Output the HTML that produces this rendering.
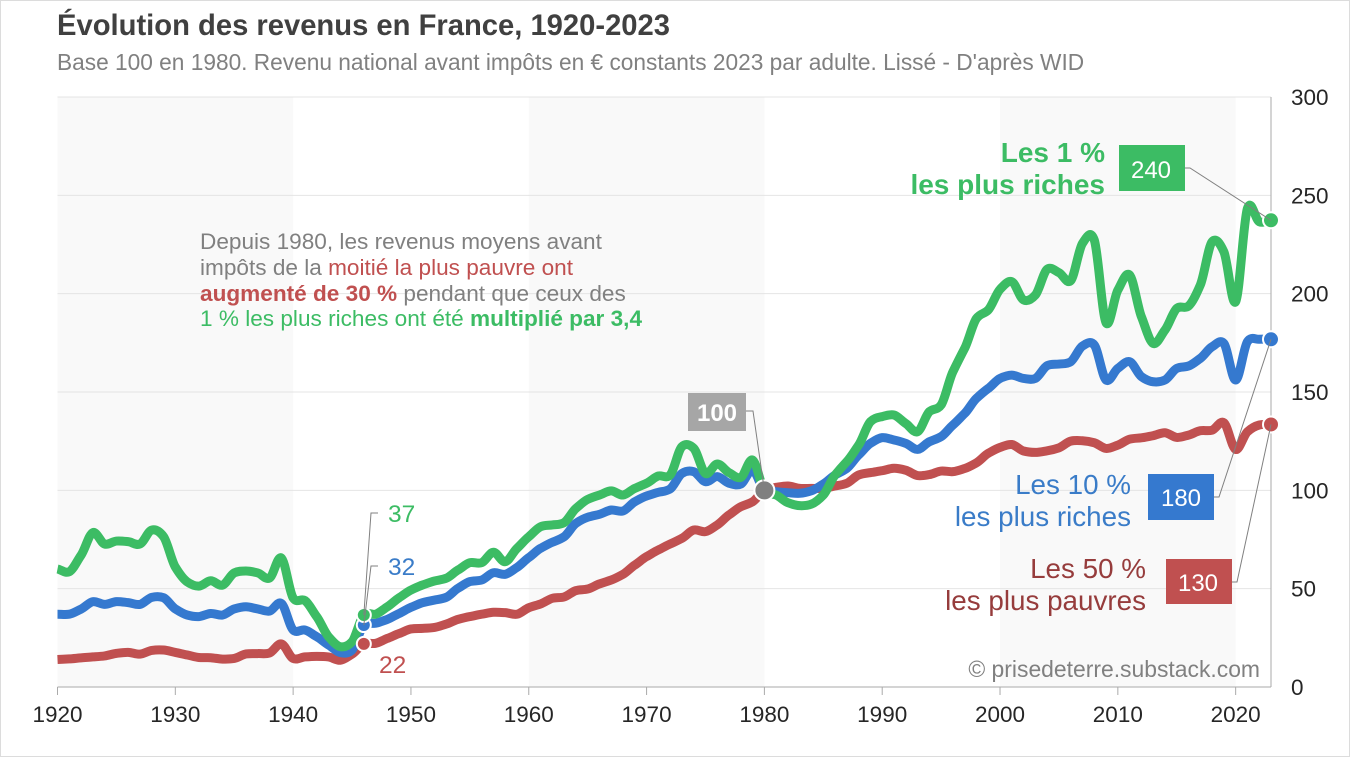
<!DOCTYPE html>
<html lang="fr">
<head>
<meta charset="utf-8">
<title>Évolution des revenus en France, 1920-2023</title>
<style>
html,body{margin:0;padding:0;background:#fff;}
svg{display:block;font-family:"Liberation Sans",Arial,sans-serif;}
</style>
</head>
<body>
<svg id="chart" xmlns="http://www.w3.org/2000/svg" width="1350" height="757" viewBox="0 0 1350 757">
  <rect x="0.5" y="0.5" width="1349" height="756" fill="#fff" stroke="#dcdcdc"/>
  <g id="bands"></g>
  <g id="grid"></g>
  <g id="axes"></g>
  <g id="series"></g>
  <g id="leaders"></g>

  <text x="57" y="35" font-size="29.2" font-weight="bold" fill="#404040" textLength="613" lengthAdjust="spacingAndGlyphs">Évolution des revenus en France, 1920-2023</text>
  <text x="57" y="70" font-size="22.7" fill="#808080">Base 100 en 1980. Revenu national avant impôts en € constants 2023 par adulte. Lissé - D'après WID</text>

  <g font-size="22.6" fill="#808080">
    <text x="200" y="249">Depuis 1980, les revenus moyens avant</text>
    <text x="200" y="275">impôts de la <tspan fill="#c05050">moitié la plus pauvre ont</tspan></text>
    <text x="200" y="301"><tspan fill="#c05050" font-weight="bold">augmenté de 30 %</tspan> pendant que ceux des</text>
    <text x="200" y="326" fill="#3cbc64">1 % les plus riches ont été <tspan font-weight="bold">multiplié par 3,4</tspan></text>
  </g>

  <g font-size="28" font-weight="bold" fill="#3cbc64" text-anchor="end">
    <text x="1105" y="162">Les 1 %</text>
    <text x="1105" y="194">les plus riches</text>
  </g>
  <g font-size="27.8" fill="#3a7cc8" text-anchor="end">
    <text x="1131" y="494">Les 10 %</text>
    <text x="1131" y="526">les plus riches</text>
  </g>
  <g font-size="27.8" fill="#963c3c" text-anchor="end">
    <text x="1146" y="578">Les 50 %</text>
    <text x="1146" y="610">les plus pauvres</text>
  </g>

  <g>
    <rect x="1119" y="145" width="66" height="46" fill="#3cbc64"/>
    <text x="1151" y="178" font-size="24" fill="#fff" text-anchor="middle">240</text>
  </g>
  <g>
    <rect x="1148" y="474" width="66" height="46" fill="#3579cf"/>
    <text x="1181" y="506" font-size="24" fill="#fff" text-anchor="middle">180</text>
  </g>
  <g>
    <rect x="1166" y="559" width="66" height="45" fill="#c05050"/>
    <text x="1198" y="591" font-size="24" fill="#fff" text-anchor="middle">130</text>
  </g>
  <g>
    <rect x="688" y="393" width="58" height="38" fill="#a6a6a6"/>
    <text x="717" y="421" font-size="24" font-weight="bold" fill="#fff" text-anchor="middle">100</text>
  </g>

  <text x="388" y="522" font-size="24.5" fill="#3cbc64">37</text>
  <text x="388" y="575" font-size="24.5" fill="#3a7cc8">32</text>
  <text x="379" y="673" font-size="24.5" fill="#c05050">22</text>

  <text x="1260" y="677" font-size="22.9" fill="#808080" text-anchor="end">© prisedeterre.substack.com</text>
</svg>

<script>
const years = [
  1920,1921,1922,1923,1924,1925,1926,1927,1928,1929,
  1930,1931,1932,1933,1934,1935,1936,1937,1938,1939,
  1940,1941,1942,1943,1944,1945,1946,1947,1948,1949,
  1950,1951,1952,1953,1954,1955,1956,1957,1958,1959,
  1960,1961,1962,1963,1964,1965,1966,1967,1968,1969,
  1970,1971,1972,1973,1974,1975,1976,1977,1978,1979,
  1980,1981,1982,1983,1984,1985,1986,1987,1988,1989,
  1990,1991,1992,1993,1994,1995,1996,1997,1998,1999,
  2000,2001,2002,2003,2004,2005,2006,2007,2008,2009,
  2010,2011,2012,2013,2014,2015,2016,2017,2018,2019,
  2020,2021,2022,2023
];
const top1 = [
  60,58.6,67,78.5,72.7,74.2,73.9,72.7,79.8,76.5,
  61,53.5,51.3,54,51.8,58,59,58,55.4,65.6,
  45.3,44,35.8,25.6,20.5,23,36.6,37,40.8,45.4,
  49.3,51.9,53.9,55.3,59.5,63.2,63.2,68.5,63.7,70.5,
  76.4,81.5,82.4,83.6,90.8,95.4,97.6,99.7,97.6,101,
  103.6,107.3,107.8,122.2,121.4,108.6,113.4,109,106.6,115.4,
  100,97.6,93.7,92.2,93,97.6,107.8,114.6,123,134.9,
  137.5,138.3,134,129.8,140,143.4,160.3,172.2,187.4,191.7,
  202.2,206.1,196.8,199.3,212.4,210.7,206.6,225.6,227.3,185.2,
  201.8,209.5,188.3,174.7,181.5,192.5,193.7,204.4,226.4,221.3,
  195.9,243.4,236.6,237.3
];
const top10 = [
  37,37,39.6,43.4,42,43.4,42.9,42,45.6,45.4,
  39.7,36.6,35.8,37.4,36.6,39.7,40.8,39.7,38.6,42.5,
  29,29,25.6,21.4,17.5,18.8,31.5,32.4,34.4,37.4,
  40.5,42.9,44.2,45.6,50.2,53.6,54.4,58.1,57.3,60.8,
  65.8,70.5,73.6,76.4,83.2,86.3,87.8,90,89.5,94.2,
  97.1,99,100.7,108.6,109.5,104.4,107,103.6,103.2,110.3,
  100,99.3,98.8,98.5,99.8,103.2,107.8,111.2,118,123.9,
  126.8,125.6,123.9,120.8,124.7,127.3,133.2,139.1,146.8,151.8,
  156.9,158.6,156.9,156.9,163.4,164.2,165.4,173.4,173.9,156.1,
  162,165.4,157.8,155.2,156.1,162,163.2,167.1,173,174.7,
  156.1,175.6,176.8,176.8
];
const bottom50 = [
  14,14.3,14.8,15.3,15.8,17.1,17.6,16.7,18.6,18.8,
  17.6,16.3,15,14.9,14.2,14.5,16.8,17,17.3,21.9,
  14.5,15.3,15.6,15.3,13.6,16.7,21.9,22.2,24.7,27.2,
  29.5,29.8,30.3,32,34.4,35.8,37,38,37.8,37,
  40.3,42.2,45.1,45.8,49,49.8,52.4,54.4,57.3,62,
  66.3,69.7,72.7,75.6,79.8,79,82.4,87.5,91.7,94.2,
  100,101.5,102.2,101,101,101,102.2,103.6,107.8,109,
  110,111.2,110.2,107.5,108,109.8,109.5,111.1,114,118.8,
  121.8,123.3,120,119.3,120.1,121.6,125,125.2,124.2,121.3,
  123,126,126.7,127.8,129.3,126.9,128.1,130.3,130.6,134.4,
  120.8,129.8,133.2,133.5
];
const yTicks = [0,50,100,150,200,250,300];
const xTicks = [1920,1930,1940,1950,1960,1970,1980,1990,2000,2010,2020];
const shadedDecades = [[1920,1940],[1960,1980],[2000,2020]];

const NS = 'http://www.w3.org/2000/svg';
const plot = {left:57.5, right:1271, top:97, bottom:687};
function xScale(year){ return plot.left + (year-1920)*(plot.right-plot.left)/(2023-1920); }
function yScale(v){ return plot.bottom - v*(plot.bottom-plot.top)/300; }
function make(tag, attrs, parent){
  const el = document.createElementNS(NS, tag);
  for (const k in attrs) el.setAttribute(k, attrs[k]);
  parent.appendChild(el);
  return el;
}
function smoothPath(xs, ys){
  const n = xs.length, m = new Array(n);
  for (let i=0;i<n;i++){
    const a = Math.max(i-1,0), b = Math.min(i+1,n-1);
    m[i] = 0.85*(ys[b]-ys[a])/(xs[b]-xs[a]);
  }
  let p = 'M'+xs[0].toFixed(2)+' '+ys[0].toFixed(2);
  for (let i=0;i<n-1;i++){
    const h=(xs[i+1]-xs[i])/3;
    p+=' C'+(xs[i]+h).toFixed(2)+' '+(ys[i]+m[i]*h).toFixed(2)+' '+(xs[i+1]-h).toFixed(2)+' '+(ys[i+1]-m[i+1]*h).toFixed(2)+' '+xs[i+1].toFixed(2)+' '+ys[i+1].toFixed(2);
  }
  return p;
}

const bandsG = document.getElementById('bands');
shadedDecades.forEach(function(b){
  const el = make('rect',{x:xScale(b[0]),y:plot.top,width:xScale(b[1])-xScale(b[0]),height:plot.bottom-plot.top,fill:'#f9f9f9'},bandsG);
  
  
});

const gridG = document.getElementById('grid');
yTicks.forEach(function(t){
  if (t === 0) return;
  const el = make('line',{x1:plot.left,x2:plot.right,y1:yScale(t),y2:yScale(t),stroke:'#e4e4e4','stroke-width':1},gridG);
  
  
});

const axesG = document.getElementById('axes');
const yAxis = make('line',{x1:plot.right,x2:plot.right,y1:plot.top,y2:plot.bottom,stroke:'#aaa','stroke-width':1},axesG);


const xAxis = make('line',{x1:plot.left,x2:plot.right,y1:plot.bottom,y2:plot.bottom,stroke:'#aaa','stroke-width':1},axesG);


xTicks.forEach(function(t){
  const tick = make('line',{x1:xScale(t),x2:xScale(t),y1:plot.bottom,y2:plot.bottom+8,stroke:'#aaa','stroke-width':1},axesG);
  
  
  const lab = make('text',{x:xScale(t),y:722,'font-size':22.5,fill:'#262626','text-anchor':'middle'},axesG);
  lab.textContent = t;
  
  
});
yTicks.forEach(function(t){
  const lab = make('text',{x:1291,y:yScale(t)+8,'font-size':22.5,fill:'#262626'},axesG);
  lab.textContent = t;
  
  
});

const seriesG = document.getElementById('series');
const xs = years.map(xScale);
[[bottom50,'#c05050','bottom-50'],[top10,'#3579cf','top-10'],[top1,'#3cbc64','top-1']].forEach(function(s){
  const path = make('path',{d:smoothPath(xs,s[0].map(yScale)),fill:'none',stroke:s[1],'stroke-width':9,'stroke-linejoin':'round','stroke-linecap':'butt'},seriesG);
  
  
});
[[bottom50,'#c05050','bottom-50'],[top10,'#3579cf','top-10'],[top1,'#3cbc64','top-1']].forEach(function(s){
  [1946,2023].forEach(function(yr){
    const i = years.indexOf(yr);
    const dot = make('circle',{cx:xs[i],cy:yScale(s[0][i]),r:yr===1946?7:8,fill:s[1],stroke:'#fff','stroke-width':2},seriesG);
    
    
  });
});
const baseIndex = years.indexOf(1980);
const baseDot = make('circle',{cx:xs[baseIndex],cy:yScale(top1[baseIndex]),r:10,fill:'#808080',stroke:'#fff','stroke-width':2},seriesG);



const leadersG = document.getElementById('leaders');
[
  ['top-1-1946',378,513,371,top1,1946],
  ['top-10-1946',378,566,371,top10,1946],
  ['base-1980',746,411,753,top1,1980],
  ['top-1-2023',1185,168,1190,top1,2023],
  ['top-10-2023',1214,497,1219,top10,2023],
  ['bottom-50-2023',1232,582,1237,bottom50,2023]
].forEach(function(l){
  const i = years.indexOf(l[5]);
  const leader = make('polyline',{points:l[1]+','+l[2]+' '+l[3]+','+l[2]+' '+xs[i]+','+yScale(l[4][i]),fill:'none',stroke:'#808080','stroke-width':1},leadersG);
  
  
});
</script>
</body>
</html>
